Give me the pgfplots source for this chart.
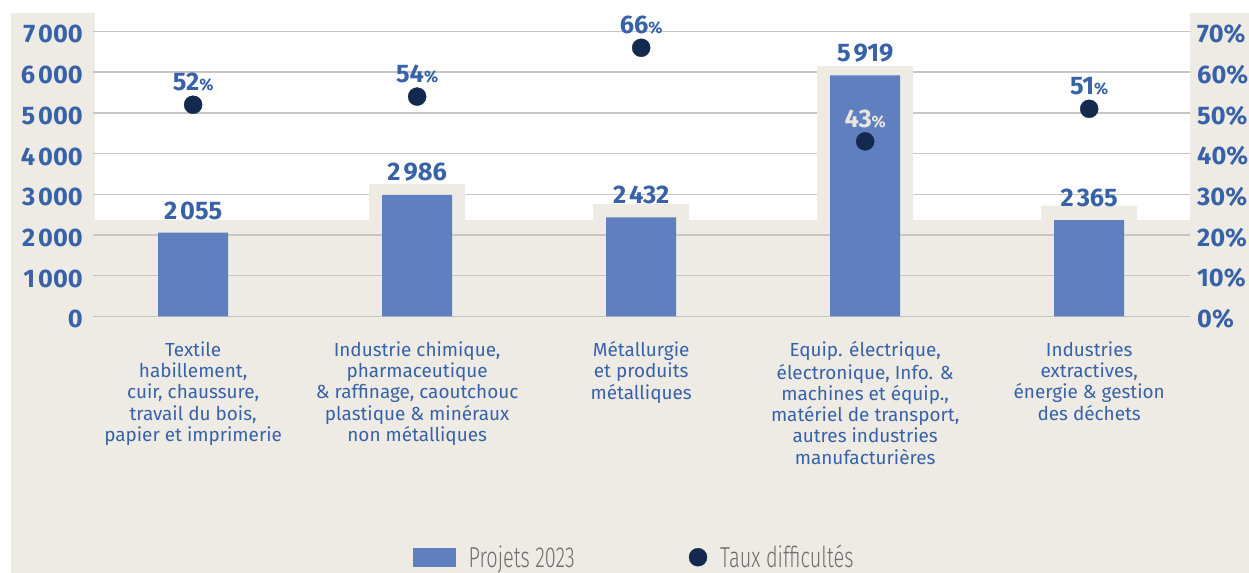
\documentclass[border=0pt]{standalone}
\usepackage{pgfplots}
\pgfplotsset{compat=1.18}
\usepackage{fontspec}
\setmainfont{Fira Sans}
\newfontfamily\legfont{Fira Sans Light}[FakeStretch=0.69]
\definecolor{beigec}{HTML}{EEEBE5}
\definecolor{barc}{HTML}{5F7FBF}
\definecolor{txtc}{HTML}{3862A8}
\definecolor{dotc}{HTML}{132A4E}
\definecolor{gridc}{HTML}{C6C6C6}
\definecolor{lightc}{HTML}{E9E5DF}
\definecolor{legc}{HTML}{6E6E6E}
\pgfplotsset{base/.style={scale only axis, width=1097bp, height=284.8bp,
  at={(93bp,256.7bp)}, anchor=south west, xmin=-0.447, xmax=4.45, clip=false}}
\newcommand{\bignum}{\fontsize{25.5}{25.5}\selectfont\bfseries}
\newcommand{\ts}{\hspace{3bp}}
\begin{document}
\begin{tikzpicture}
\useasboundingbox (0,0) rectangle (1249bp,573bp);
\clip (0,0) rectangle (1249bp,573bp);
\fill[beigec] (11bp,0) rectangle (1249bp,560bp);
\fill[white] (95bp,353bp) rectangle (1190bp,573bp);

\begin{axis}[base, ymin=0, ymax=7000, ybar stacked, bar width=96bp,
  ytick={0,1000,...,7000},
  yticklabels={0,1\ts000,2\ts000,3\ts000,4\ts000,5\ts000,6\ts000,7\ts000},
  ymajorgrids, grid style={gridc, line width=1.4bp},
  axis line style={draw=none}, major tick length=0pt,
  yticklabel style={font=\bignum, text=txtc, anchor=east, inner sep=0pt, xshift=-10bp, yshift=-6.4bp},
  xtick={0,1,2,3,4},
  typeset ticklabels with strut,
  xticklabels={{Textile\\habillement,\\cuir, chaussure,\\travail du bois,\\papier et imprimerie},
    {Industrie chimique,\\pharmaceutique\\\& raffinage, caoutchouc\\plastique \& minéraux\\non métalliques},
    {Métallurgie\\et produits\\métalliques},
    {Equip. électrique,\\électronique, Info. \&\\machines et équip.,\\matériel de transport,\\autres industries\\manufacturières},
    {Industries\\extractives,\\énergie \& gestion\\des déchets}},
  xticklabel style={align=center, font=\fontsize{19}{21.3}\selectfont, text=txtc, anchor=north, inner sep=0pt, yshift=-25bp},
]
\addplot[draw=none, fill=none] coordinates {(0,2367) (1,2367) (2,2367) (3,2367) (4,2367)};
\addplot[draw=none, fill=beigec] coordinates {(0,0) (1,884) (2,389) (3,3784) (4,353)};
\end{axis}

\begin{axis}[base, hide axis, ymin=0, ymax=7000, ybar, bar width=70bp,
  nodes near coords, point meta=explicit symbolic,
  every node near coord/.append style={font=\bignum, text=txtc, anchor=south, inner sep=0pt, yshift=13bp}]
\addplot[fill=barc, draw=none] coordinates {(0,2055) [2\ts055] (1,2986) [2\ts986] (2,2432) [2\ts432] (3,5919) [5\ts919] (4,2365) [2\ts365]};
\end{axis}

\begin{axis}[base, ymin=0, ymax=70, axis y line*=right, axis x line=none,
  axis line style={draw=none}, major tick length=0pt,
  ytick={0,10,...,70}, xtick=\empty,
  yticklabels={0\%,10\%,20\%,30\%,40\%,50\%,60\%,70\%},
  yticklabel style={font=\bignum, text=txtc, anchor=west, inner sep=0pt, xshift=7bp, yshift=-2.5bp},
  legend style={at={(0.2917,-0.846)}, anchor=west, draw=none, fill=none, inner sep=0pt,
    font=\legfont\fontsize{29}{29}\selectfont, text=legc,
    /tikz/every odd column/.append style={column sep=11bp},
    /tikz/every even column/.append style={column sep=112bp}},
  legend columns=2, legend cell align=left,
  nodes near coords={\pgfplotspointmeta{\fontsize{16.5}{16.5}\selectfont\%}},
  point meta=explicit symbolic]
\addlegendimage{legend image code/.code={\fill[barc] (0bp,-9bp) rectangle (42bp,9bp);}}
\addlegendentry{Projets 2023}
\addplot[only marks, mark=*, mark size=9bp, color=dotc,
  every node near coord/.append style={font=\bignum, text=txtc, anchor=south, inner sep=0pt, yshift=13bp},
  legend image code/.code={\fill[dotc] (9bp,0bp) circle (9bp);}]
  coordinates {(0,52) [52] (1,54) [54] (2,66) [66] (4,51) [51]};
\addlegendentry{Taux difficultés}
\addplot[forget plot, only marks, mark=*, mark size=9bp, color=dotc,
  every node near coord/.append style={font=\bignum, text=lightc, anchor=south, inner sep=0pt, yshift=13bp}]
  coordinates {(3,43) [43]};
\end{axis}
\end{tikzpicture}
\end{document}
